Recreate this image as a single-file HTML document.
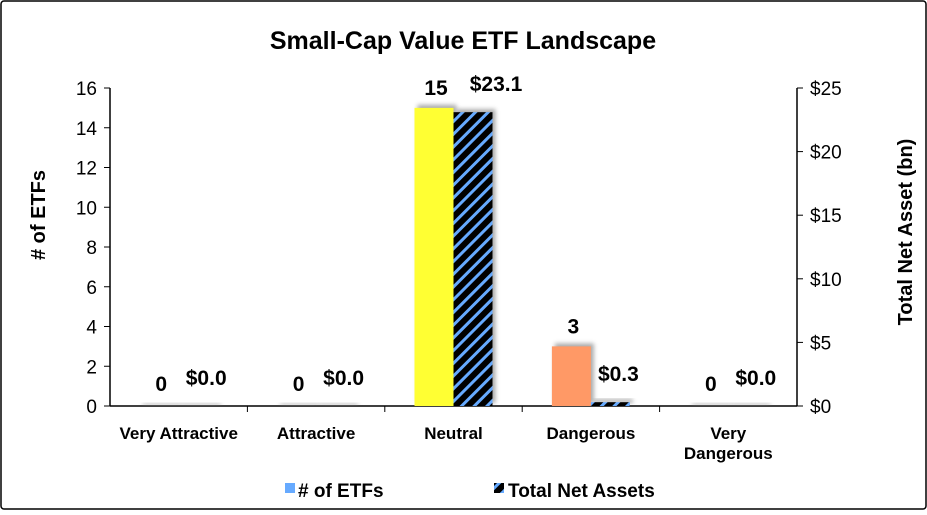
<!DOCTYPE html>
<html><head><meta charset="utf-8"><style>
body{margin:0;background:#fff}
svg{font-family:"Liberation Sans",Arial,sans-serif;font-weight:bold}
</style></head><body>
<svg width="927" height="510" viewBox="0 0 927 510">
<defs>
<pattern id="hatch" patternUnits="userSpaceOnUse" width="9" height="9" patternTransform="rotate(45)">
<rect width="9" height="9" fill="#000"/><rect width="3" height="9" fill="#66aaff"/>
</pattern>
<filter id="sh" x="-20%" y="-20%" width="150%" height="150%"><feGaussianBlur stdDeviation="2"/></filter>
</defs>
<rect x="1" y="1" width="925" height="508" fill="#fff" stroke="#000" stroke-width="1.5" rx="3"/>
<text x="463" y="49" text-anchor="middle" font-size="25">Small-Cap Value ETF Landscape</text>
<g id="axes"></g>
<g id="bars"></g>
<text transform="translate(45,215) rotate(-90)" text-anchor="middle" font-size="20"># of ETFs</text>
<text transform="translate(912,232) rotate(-90)" text-anchor="middle" font-size="20">Total Net Asset (bn)</text>
<rect x="285" y="483" width="10" height="10" fill="#66aaff"/>
<text x="298" y="497" font-size="19"># of ETFs</text>
<rect x="494" y="483" width="10" height="10" fill="url(#hatch)"/>
<text x="508" y="497" font-size="19">Total Net Assets</text>
</svg>
<script>
const categories=["Very Attractive","Attractive","Neutral","Dangerous","Very Dangerous"];
const etfCounts=[0,0,15,3,0];
const netAssets=[0,0,23.1,0.3,0];
const leftTicks=[0,2,4,6,8,10,12,14,16];
const rightTicks=[0,5,10,15,20,25];
const etfColors=["#ffff33","#ffff33","#ffff33","#ff9966","#ff9966"];
const NS="http://www.w3.org/2000/svg";
const X0=110,X1=797,Y0=406,Y1=88;
const bw=(X1-X0)/categories.length;
const yL=v=>Y0-(v/16)*(Y0-Y1);
const yR=v=>Y0-(v/25)*(Y0-Y1);
const cx=i=>X0+bw*(i+0.5);
function mk(tag,attrs,parent,text){const e=document.createElementNS(NS,tag);for(const k in attrs)e.setAttribute(k,attrs[k]);if(text!==undefined)e.textContent=text;parent.appendChild(e);return e;}
const ax=document.getElementById('axes'),bars=document.getElementById('bars');
let e;
e=mk('line',{x1:X0,y1:Y1,x2:X0,y2:Y0,stroke:'#000','stroke-width':1.5},ax);


e=mk('line',{x1:X1,y1:Y1,x2:X1,y2:Y0,stroke:'#000','stroke-width':1.5},ax);


e=mk('line',{x1:X0,y1:Y0,x2:X1,y2:Y0,stroke:'#000','stroke-width':1.5},ax);


leftTicks.forEach(t=>{const y=yL(t);mk('line',{x1:X0-6,y1:y,x2:X0,y2:y,stroke:'#000'},ax);
e=mk('text',{x:X0-13,y:y+7,'text-anchor':'end','font-size':19,'font-weight':'normal'},ax,t);

});
rightTicks.forEach(t=>{const y=yR(t);mk('line',{x1:X1,y1:y,x2:X1+6,y2:y,stroke:'#000'},ax);
e=mk('text',{x:X1+13,y:y+7,'font-size':19,'font-weight':'normal'},ax,'$'+t);

});
for(let i=1;i<categories.length;i++){mk('line',{x1:X0+bw*i,y1:Y0,x2:X0+bw*i,y2:Y0+6,stroke:'#000'},ax);}
categories.forEach((c,i)=>{const parts=c==="Very Dangerous"?["Very","Dangerous"]:[c];
parts.forEach((p,j)=>{e=mk('text',{x:cx(i),y:439+j*20,'text-anchor':'middle','font-size':17},ax,p);

});});
const w=39;
categories.forEach((c,i)=>{
 const c0=cx(i);
 const ya=yL(etfCounts[i]),yb=yR(netAssets[i]);
 mk('rect',{x:c0-w+3,y:ya-3,width:w,height:Math.max(Y0-ya,2),fill:'#888',filter:'url(#sh)',opacity:.7},bars);
 mk('rect',{x:c0+3,y:yb-3,width:w,height:Math.max(Y0-yb,2),fill:'#888',filter:'url(#sh)',opacity:.7},bars);
 e=mk('rect',{x:c0-w,y:ya,width:w,height:Y0-ya,fill:etfColors[i]},bars);
 
 
 e=mk('rect',{x:c0,y:yb,width:w,height:Y0-yb,fill:'url(#hatch)'},bars);
 
 
 e=mk('text',{x:c0-w/2+2,y:Math.min(ya-13,391),'text-anchor':'middle','font-size':21},bars,etfCounts[i]);
 
 
 const big=netAssets[i]>5;
 e=mk('text',{x:c0+w/2+(big?23:8),y:Math.min(yb-21,391),'text-anchor':'middle','font-size':21},bars,'$'+netAssets[i].toFixed(1));
 
 
});
</script>
</body></html>
